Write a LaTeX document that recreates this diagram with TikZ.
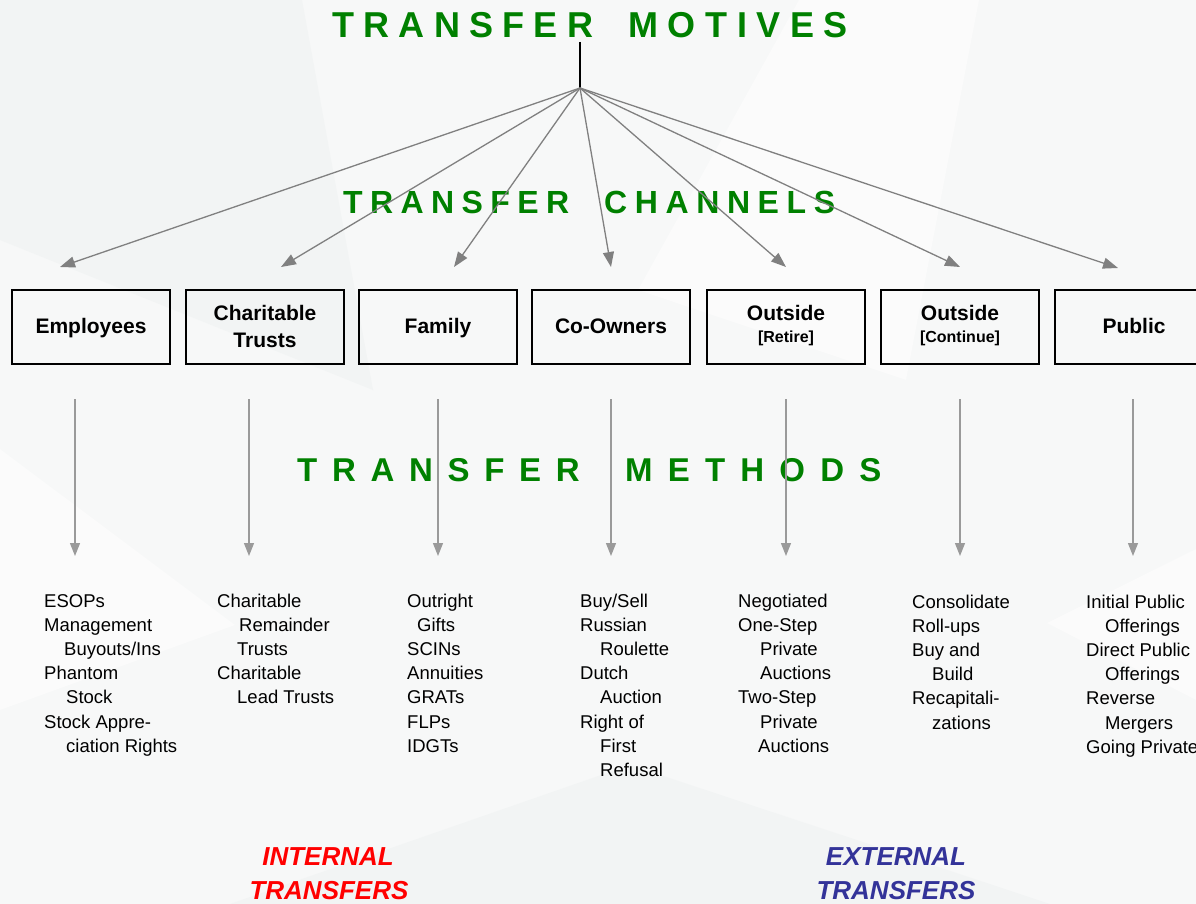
\documentclass[tikz,border=0pt]{standalone}
\usepackage{fontspec}
\setmainfont{Liberation Sans}
\usetikzlibrary{arrows.meta}
\definecolor{ttlgreen}{HTML}{008000}
\definecolor{fangray}{HTML}{808080}
\definecolor{vgray}{HTML}{9A9A9A}
\definecolor{intred}{HTML}{FF0000}
\definecolor{extblue}{HTML}{333399}
\definecolor{bgbase}{HTML}{F7F8F8}
\definecolor{bgdark}{HTML}{F2F4F4}
\definecolor{bglight}{HTML}{FBFBFB}
\makeatletter
\newcommand\lsp[2]{{\def\lsp@k{#1}\let\lsp@sep\relax\@tfor\lsp@c:=#2\do{\lsp@sep\lsp@c\def\lsp@sep{\kern\lsp@k}}}}
\makeatother
\newcommand\colbox[1]{\vtop{\baselineskip=24.2pt\relax #1}}
\newcommand\mline[2][0pt]{\hbox{\kern#1 #2}}
\tikzset{
  ttl/.style={text=ttlgreen, font=\bfseries\fontsize{36}{40}\selectfont, inner sep=0, anchor=base west},
  ttlsub/.style={text=ttlgreen, font=\bfseries\fontsize{32}{36}\selectfont, inner sep=0, anchor=base west},
  ttlmeth/.style={text=ttlgreen, font=\bfseries\fontsize{33}{36}\selectfont, inner sep=0, anchor=base west},
  chbox/.style={draw=black, line width=1.3pt, minimum width=158pt, minimum height=74pt, inner sep=0},
  boxtxt/.style={font=\bfseries\fontsize{21}{25}\selectfont, anchor=base, inner sep=0},
  boxsml/.style={font=\bfseries\fontsize{16}{19}\selectfont, anchor=base, inner sep=0},
  fan/.style={draw=fangray, line width=1.3pt, -{Triangle[length=15pt,width=11pt]}},
  down/.style={draw=vgray, line width=1.3pt, -{Triangle[length=13pt,width=10pt]}},
  meth/.style={font=\fontsize{18.5}{24.2}\selectfont, anchor=base west, inner sep=0},
  tag/.style={font=\bfseries\itshape\fontsize{26}{30}\selectfont, anchor=base, inner sep=0, text depth=0pt}
}
\begin{document}
\begin{tikzpicture}[x=1pt,y=-1pt]
\useasboundingbox (0,0) rectangle (1196,904);
% background
\fill[bgbase] (0,0) rectangle (1196,904);
\fill[bgdark] (0,0) -- (302,0) -- (373,390) -- (0,240) -- cycle;
\fill[bglight] (0,449) -- (235,625) -- (0,710) -- cycle;
\fill[bglight] (799,0) -- (979,0) -- (906,380) -- (638,290) -- cycle;
\fill[bgdark] (230,904) -- (630,765) -- (1050,904) -- cycle;
\fill[bglight] (1047,623) -- (1196,549) -- (1196,700) -- cycle;

% titles
\node[ttl] (m1) at (332,38) {\lsp{9.3pt}{TRANSFER}};
\node[ttl] (m2) at (628,38) {\lsp{9.6pt}{MOTIVES}};
\node[ttlsub] (c1) at (343,213) {\lsp{7.4pt}{TRANSFER}};
\node[ttlsub] (c2) at (604,213) {\lsp{7.6pt}{CHANNELS}};
\node[ttlmeth] (t1) at (297,481) {\lsp{14.7pt}{TRANSFER}};
\node[ttlmeth] (t2) at (625,481) {\lsp{15.2pt}{METHODS}};

% fan
\coordinate (top) at (580,42);
\coordinate (hub) at (580,88);
\draw[black, line width=1.5pt] (top) -- (hub);
\coordinate (f1) at (60,267);
\coordinate (f2) at (281,267);
\coordinate (f3) at (454,267);
\coordinate (f4) at (611,267);
\coordinate (f5) at (786,267);
\coordinate (f6) at (960,267);
\coordinate (f7) at (1118,268);
\foreach \i in {1,...,7} \draw[fan] (hub) -- (f\i);

% channel boxes
\node[chbox] (b1) at (91,327) {};
\node[chbox] (b2) at (265,327) {};
\node[chbox] (b3) at (438,327) {};
\node[chbox] (b4) at (611,327) {};
\node[chbox] (b5) at (786,327) {};
\node[chbox] (b6) at (960,327) {};
\node[chbox] (b7) at (1134,327) {};
\node[boxtxt] (l1) at (91,333) {Employees};
\node[boxtxt] (l2a) at (265,320) {Charitable};
\node[boxtxt] (l2b) at (265,347) {Trusts};
\node[boxtxt] (l3) at (438,333) {Family};
\node[boxtxt] (l4) at (611,333) {Co-Owners};
\node[boxtxt] (l5a) at (786,320) {Outside};
\node[boxsml] (l5b) at (786,342) {[Retire]};
\node[boxtxt] (l6a) at (960,320) {Outside};
\node[boxsml] (l6b) at (960,342) {[Continue]};
\node[boxtxt] (l7) at (1134,333) {Public};

% down arrows
\foreach \i/\x in {1/75,2/249,3/438,4/611,5/786,6/960,7/1133}{
  \coordinate (d\i s) at (\x,399);
  \coordinate (d\i e) at (\x,556);
  \draw[down] (d\i s) -- (d\i e);
}

% methods
\node[meth] (k1) at (44,607) {\colbox{\mline{ESOPs}\mline{Management}\mline[20pt]{Buyouts/Ins}\mline{Phantom}\mline[22pt]{Stock}\mline{Stock Appre-}\mline[22pt]{ciation Rights}}};
\node[meth] (k2) at (217,607) {\colbox{\mline{Charitable}\mline[22pt]{Remainder}\mline[20pt]{Trusts}\mline{Charitable}\mline[20pt]{Lead Trusts}}};
\node[meth] (k3) at (407,607) {\colbox{\mline{Outright}\mline[10pt]{Gifts}\mline{SCINs}\mline{Annuities}\mline{GRATs}\mline{FLPs}\mline{IDGTs}}};
\node[meth] (k4) at (580,607) {\colbox{\mline{Buy/Sell}\mline{Russian}\mline[20pt]{Roulette}\mline{Dutch}\mline[20pt]{Auction}\mline{Right of}\mline[20pt]{First}\mline[20pt]{Refusal}}};
\node[meth] (k5) at (738,607) {\colbox{\mline{Negotiated}\mline{One-Step}\mline[22pt]{Private}\mline[22pt]{Auctions}\mline{Two-Step}\mline[22pt]{Private}\mline[20pt]{Auctions}}};
\node[meth] (k6) at (912,608) {\colbox{\mline{Consolidate}\mline{Roll-ups}\mline{Buy and}\mline[20pt]{Build}\mline{Recapitali-}\mline[20pt]{zations}}};
\node[meth] (k7) at (1086,608) {\colbox{\mline{Initial Public}\mline[19pt]{Offerings}\mline{Direct Public}\mline[19pt]{Offerings}\mline{Reverse}\mline[19pt]{Mergers}\mline{Going Private}}};

% bottom tags
\node[tag, text=intred] (i1) at (328,865) {INTERNAL};
\node[tag, text=intred] (i2) at (329,899) {TRANSFERS};
\node[tag, text=extblue] (e1) at (896,865) {EXTERNAL};
\node[tag, text=extblue] (e2) at (896,899) {TRANSFERS};
\end{tikzpicture}
\end{document}
